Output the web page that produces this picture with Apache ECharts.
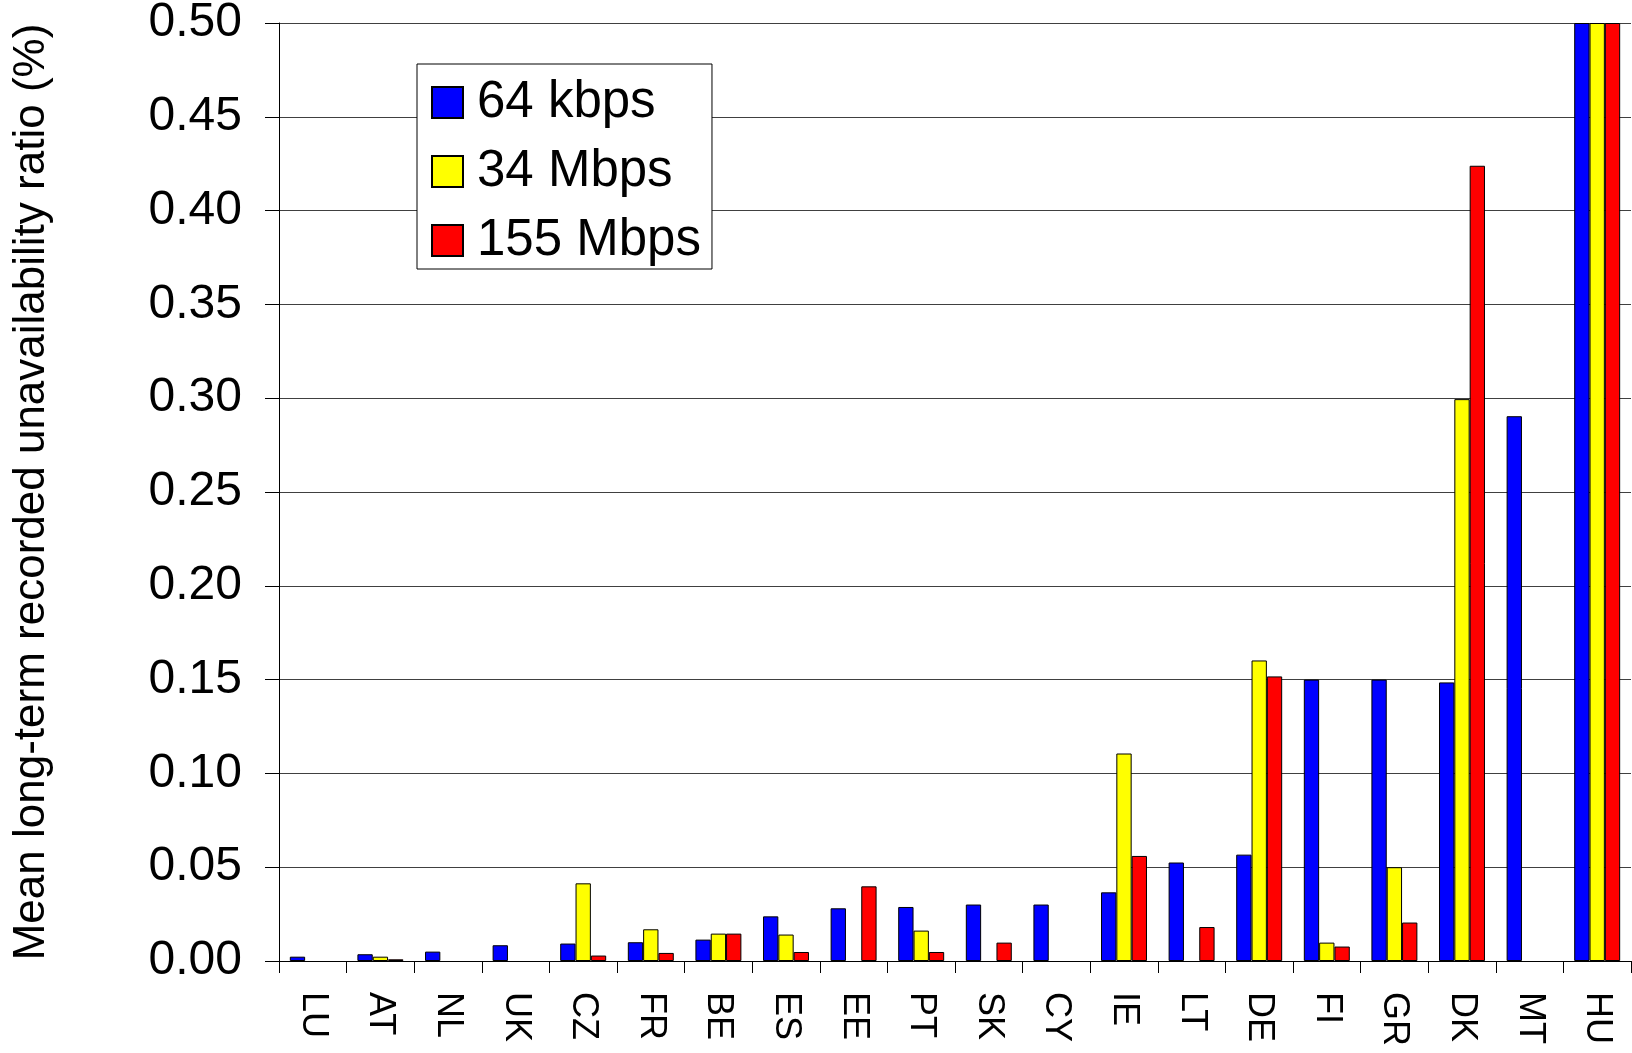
<!DOCTYPE html>
<html>
<head>
<meta charset="utf-8">
<script src="https://cdn.jsdelivr.net/npm/echarts@6/dist/echarts.min.js"></script>
<style>
  html, body { margin: 0; padding: 0; background: #fff; }
  #chart { width: 1632px; height: 1053px; }
</style>
</head>
<body>
<div id="chart"></div>
<script>
const categories = ['LU','AT','NL','UK','CZ','FR','BE','ES','EE','PT','SK','CY','IE','LT','DE','FI','GR','DK','MT','HU'];
const kbps64  = [0.0023, 0.0036, 0.0050, 0.0084, 0.0093, 0.0100, 0.0114, 0.0238, 0.0281, 0.0288, 0.0301, 0.0301, 0.0366, 0.0525, 0.0567, 0.1500, 0.1500, 0.1485, 0.2904, 0.5000];
const mbps34  = [null,   0.0023, null,   null,   0.0414, 0.0169, 0.0146, 0.0141, null,   0.0162, null,   null,   0.1106, null,   0.1602, 0.0098, 0.0500, 0.2995, null,   0.5000];
const mbps155 = [null,   0.0009, null,   null,   0.0029, 0.0043, 0.0146, 0.0048, 0.0398, 0.0048, 0.0098, null,   0.0560, 0.0181, 0.1517, 0.0077, 0.0205, 0.4239, null,   0.5000];
const seriesNames = ['64 kbps', '34 Mbps', '155 Mbps'];
const yTicks = { min: 0, max: 0.5, interval: 0.05 };

const FONT = '"Liberation Sans", Arial, sans-serif';
const chart = echarts.init(document.getElementById('chart'), null, { renderer: 'canvas' });

function bar(name, data, color) {
  return {
    name: name,
    type: 'bar',
    data: data,
    barGap: '0%',
    barCategoryGap: '32%',
    itemStyle: { color: color, borderColor: '#000', borderWidth: 1 },
    emphasis: { disabled: true }
  };
}

chart.setOption({
  animation: false,
  backgroundColor: '#fff',
  grid: { left: 279, top: 23, right: 1, bottom: 92, containLabel: false, outerBoundsMode: 'none' },
  legend: {
    left: 417, top: 64,
    orient: 'vertical',
    selectedMode: false,
    icon: 'rect',
    itemWidth: 31, itemHeight: 31, itemGap: 18,
    padding: [13, 11, 3, 14],
    backgroundColor: '#fff',
    borderColor: '#000', borderWidth: 1,
    textStyle: { fontFamily: FONT, fontSize: 51, color: '#000', padding: [0, 0, 0, 9] },
    data: seriesNames
  },
  xAxis: {
    type: 'category',
    data: categories,
    axisLine: { show: true, lineStyle: { color: '#000', width: 1 } },
    axisTick: { show: true, length: 12, interval: 0, lineStyle: { color: '#000' } },
    axisLabel: { interval: 0, rotate: -90, margin: 31, fontFamily: FONT, fontSize: 36, color: '#000' },
    splitLine: { show: false }
  },
  yAxis: {
    type: 'value',
    min: yTicks.min, max: yTicks.max, interval: yTicks.interval,
    name: 'Mean long-term recorded unavailability ratio (%)',
    nameLocation: 'middle',
    nameGap: 225,
    nameTextStyle: { fontFamily: FONT, fontSize: 44, color: '#000' },
    axisLine: { show: true, lineStyle: { color: '#000', width: 1 } },
    axisTick: { show: true, length: 14, lineStyle: { color: '#000' } },
    axisLabel: { margin: 37, fontFamily: FONT, fontSize: 48, color: '#000', formatter: v => v.toFixed(2) },
    splitLine: { show: true, lineStyle: { color: '#404040', width: 1 } }
  },
  series: [
    bar(seriesNames[0], kbps64, '#0000FF'),
    bar(seriesNames[1], mbps34, '#FFFF00'),
    bar(seriesNames[2], mbps155, '#FF0000')
  ]
});
</script>
</body>
</html>
